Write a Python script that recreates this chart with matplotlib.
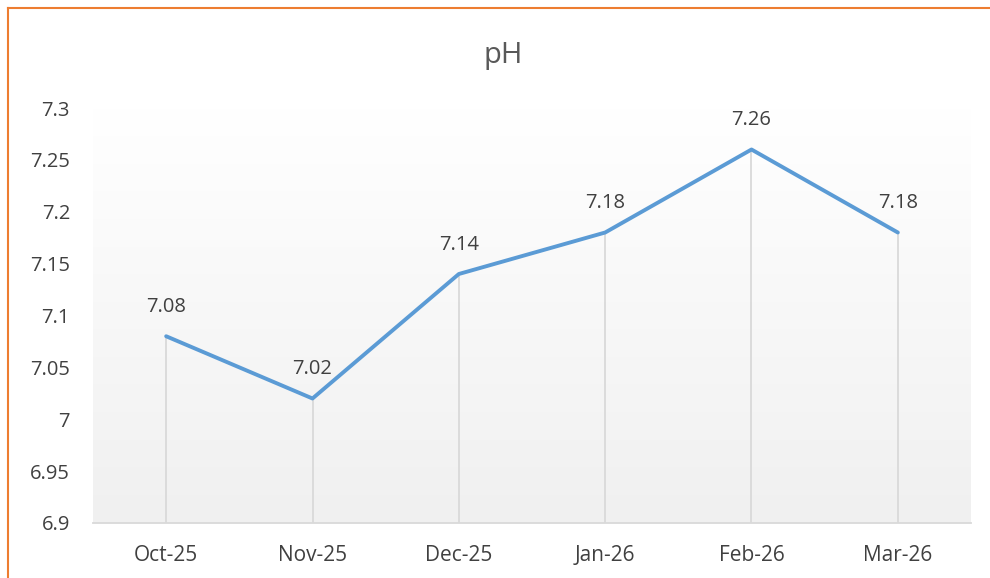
import matplotlib
matplotlib.use("Agg")
import matplotlib.pyplot as plt
import numpy as np
from matplotlib.lines import Line2D

months = ["Oct-25", "Nov-25", "Dec-25", "Jan-26", "Feb-26", "Mar-26"]
ph_values = [7.08, 7.02, 7.14, 7.18, 7.26, 7.18]
y_ticks = [6.9, 6.95, 7.0, 7.05, 7.1, 7.15, 7.2, 7.25, 7.3]
y_tick_labels = ["6.9", "6.95", "7", "7.05", "7.1", "7.15", "7.2", "7.25", "7.3"]

plt.rcParams['font.family'] = ['Open Sans', 'DejaVu Sans']

W, H = 990, 578
fig = plt.figure(figsize=(W / 100, H / 100), dpi=100)
ax = fig.add_axes([93 / W, 1 - 523 / H, (971 - 93) / W, (523 - 108) / H])

x = np.arange(len(months))
ax.set_xlim(-0.5, len(months) - 0.5)
ax.set_ylim(6.9, 7.3)

# gradient background
grad = np.linspace(0, 1, 256).reshape(-1, 1)
top = np.array([1.0, 1.0, 1.0])
bot = np.array([0xf0, 0xf0, 0xf0]) / 255
img = top + (bot - top) * grad[:, :, None] * np.ones((1, 1, 3))
ax.imshow(img, extent=[0, 1, 0, 1], transform=ax.transAxes, aspect='auto', zorder=0)

# drop lines
ax.vlines(x, 6.9, ph_values, colors="#d9d9d9", linewidth=1.3, zorder=1)
ax.plot(x, ph_values, color="#5B9BD5", linewidth=2.8, solid_capstyle='round',
        solid_joinstyle='round', zorder=3)

for xi, v in zip(x, ph_values):
    ax.annotate(f"{v:g}", (xi, v), xytext=(0, 17.5), textcoords="offset points",
                ha="center", va="baseline", fontsize=14.5, color="#404040")

ax.set_xticks(x)
ax.set_xticklabels(months, fontsize=15, color="#404040")
ax.set_yticks(y_ticks)
ax.set_yticklabels(y_tick_labels, fontsize=14.5, color="#404040")
ax.tick_params(axis='both', length=0)
ax.tick_params(axis='x', pad=16)
ax.tick_params(axis='y', pad=16.5)

for s in ["top", "right", "left"]:
    ax.spines[s].set_visible(False)
ax.spines["bottom"].set_color("#d9d9d9")
ax.spines["bottom"].set_linewidth(1.3)

fig.text(503 / W, 1 - 63 / H, "pH", ha="center", va="baseline", fontsize=21, color="#595959")

# orange border (top and left visible)
fig.add_artist(Line2D([8 / W, 1.0], [1 - 8 / H, 1 - 8 / H], color="#ED7D31", linewidth=1.5,
                      transform=fig.transFigure))
fig.add_artist(Line2D([8 / W, 8 / W], [0, 1 - 8 / H], color="#ED7D31", linewidth=1.5,
                      transform=fig.transFigure))

fig.savefig("out.png", dpi=100)
